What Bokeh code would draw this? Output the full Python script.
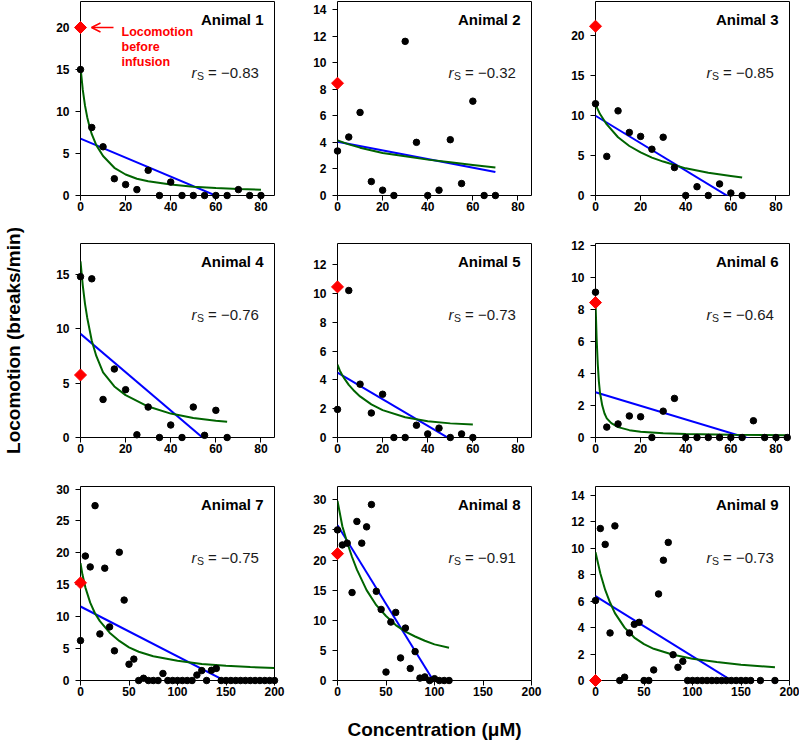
import numpy as np
from bokeh.plotting import figure
from bokeh.models import Label, Arrow, OpenHead, FixedTicker, Range1d
from bokeh.layouts import column, row
from bokeh.embed import file_html
from bokeh.resources import INLINE

# ---------------- data ----------------
animal_names = ["Animal 1", "Animal 2", "Animal 3", "Animal 4", "Animal 5",
                "Animal 6", "Animal 7", "Animal 8", "Animal 9"]
rs_labels = ["\u22120.83", "\u22120.32", "\u22120.85", "\u22120.76", "\u22120.73",
             "\u22120.64", "\u22120.75", "\u22120.91", "\u22120.73"]

conc_a1 = [0, 5, 10, 15, 20, 25, 30, 35, 40, 45, 50, 55, 60, 65, 70, 75, 80]
loco_a1 = [15.0, 8.1, 5.8, 2.0, 1.3, 0.7, 3.0, 0, 1.6, 0, 0, 0, 0, 0, 0.7, 0, 0]
conc_a2 = [0, 5, 10, 15, 20, 25, 30, 35, 40, 45, 50, 55, 60, 65, 70]
loco_a2 = [3.35, 4.4, 6.25, 1.05, 0.4, 0, 11.6, 4.0, 0, 0.4, 4.2, 0.9, 7.1, 0, 0]
conc_a3 = [0, 5, 10, 15, 20, 25, 30, 35, 40, 45, 50, 55, 60, 65]
loco_a3 = [11.5, 4.9, 10.6, 7.9, 7.4, 5.8, 7.3, 3.5, 0, 1.1, 0, 1.45, 0.3, 0]
conc_a4 = [0, 5, 10, 15, 20, 25, 30, 35, 40, 45, 50, 55, 60, 65]
loco_a4 = [14.8, 14.6, 3.5, 6.3, 4.4, 0.25, 2.8, 0, 1.15, 0, 2.8, 0.2, 2.5, 0]
conc_a5 = [0, 5, 10, 15, 20, 25, 30, 35, 40, 45, 50, 55, 60]
loco_a5 = [1.95, 10.2, 3.7, 1.7, 3.0, 0, 0, 0.85, 0.25, 0.65, 0, 0.25, 0]
conc_a6 = [0, 5, 10, 15, 20, 25, 30, 35, 40, 45, 50, 55, 60, 65, 70, 75, 80, 85]
loco_a6 = [9.1, 0.65, 0.85, 1.35, 1.3, 0, 1.65, 2.45, 0, 0, 0, 0, 0, 0, 1.05, 0, 0, 0]
conc_a7 = [0, 5, 10, 15, 20, 25, 30, 35, 40, 45, 50, 55, 60, 65, 70, 75, 80, 85, 90, 95,
           100, 105, 110, 115, 120, 125, 130, 135, 140, 145, 150, 155, 160, 165, 170,
           175, 180, 185, 190, 195, 200]
loco_a7 = [6.25, 19.5, 17.8, 27.4, 7.3, 17.6, 8.4, 4.65, 20.1, 12.6, 2.55, 3.35, 0, 0.35,
           0, 0, 0, 1.1, 0, 0, 0, 0, 0, 0, 0.85, 1.55, 0, 1.6, 1.9, 0, 0, 0, 0, 0, 0,
           0, 0, 0, 0, 0, 0]
conc_a8 = [0, 5, 10, 15, 20, 25, 30, 35, 40, 45, 50, 55, 60, 65, 70, 75, 80, 85, 90, 95,
           100, 105, 110, 115]
loco_a8 = [25.0, 22.5, 22.8, 14.6, 26.4, 22.8, 25.5, 29.2, 14.8, 11.8, 1.4, 9.7, 11.3,
           3.75, 8.7, 2.0, 4.8, 0.4, 0.6, 0, 0.3, 0, 0, 0]
conc_a9 = [0, 5, 10, 15, 20, 25, 30, 35, 40, 45, 50, 55, 60, 65, 70, 75, 80, 85, 90, 95,
           100, 105, 110, 115, 120, 125, 130, 135, 140, 145, 150, 155, 160, 170, 185]
loco_a9 = [6.05, 11.5, 10.3, 3.6, 11.7, 0, 0.25, 3.6, 4.25, 4.4, 0, 0, 0.8, 6.55, 9.1,
           10.45, 1.95, 1.0, 1.45, 0, 0, 0, 0, 0, 0, 0, 0, 0, 0, 0, 0, 0, 0, 0, 0]

# locomotion before infusion (red diamonds)
pre_infusion = [20.0, 8.45, 21.2, 5.75, 10.45, 8.45, 15.3, 21.05, 0.0]

# green fitted curves
curve_x_a1 = [0, 1, 2, 3, 4, 5, 7, 10, 15, 20, 25, 30, 40, 50, 60, 70, 80]
curve_y_a1 = [15.3, 12.6, 10.7, 9.3, 8.2, 7.3, 6.0, 4.7, 3.3, 2.5, 2.0, 1.7, 1.3, 1.05, 0.9, 0.78, 0.68]
curve_x_a2 = [0, 5, 10, 20, 30, 40, 50, 60, 70]
curve_y_a2 = [4.15, 3.85, 3.6, 3.2, 2.95, 2.7, 2.5, 2.3, 2.1]
curve_x_a3 = [0, 2, 5, 10, 15, 20, 25, 30, 40, 50, 60, 65]
curve_y_a3 = [11.4, 10.2, 8.9, 7.3, 6.2, 5.4, 4.75, 4.25, 3.4, 2.85, 2.45, 2.25]
curve_x_a4 = [0, 1, 2, 3, 5, 7, 10, 15, 20, 30, 40, 50, 60, 65]
curve_y_a4 = [16.2, 14.0, 12.3, 11.0, 8.9, 7.5, 6.0, 4.7, 3.9, 2.85, 2.2, 1.8, 1.55, 1.45]
curve_x_a5 = [0, 1, 2, 3, 5, 7, 10, 15, 20, 30, 40, 50, 60]
curve_y_a5 = [5.05, 4.65, 4.35, 4.1, 3.65, 3.3, 2.85, 2.3, 1.9, 1.4, 1.12, 0.98, 0.9]
curve_x_a6 = [0, 0.5, 1, 1.5, 2, 3, 4, 5, 7, 10, 15, 20, 30, 40, 60, 85]
curve_y_a6 = [8.5, 6.2, 4.6, 3.5, 2.8, 2.0, 1.5, 1.2, 0.9, 0.65, 0.46, 0.36, 0.27, 0.22, 0.17, 0.14]
curve_x_a7 = [0, 2, 5, 10, 15, 20, 30, 40, 50, 60, 75, 100, 125, 150, 175, 200]
curve_y_a7 = [18.4, 16.6, 14.6, 12.2, 10.5, 9.3, 7.5, 6.2, 5.2, 4.5, 3.8, 3.1, 2.6, 2.3, 2.1, 1.95]
curve_x_a8 = [0, 5, 10, 15, 20, 30, 40, 50, 60, 70, 80, 90, 100, 115]
curve_y_a8 = [29.8, 25.6, 22.9, 20.5, 18.4, 15.0, 12.5, 10.7, 9.2, 8.1, 7.3, 6.6, 6.0, 5.45]
curve_x_a9 = [0, 5, 10, 15, 20, 30, 40, 50, 60, 80, 100, 125, 150, 185]
curve_y_a9 = [9.7, 8.1, 6.85, 5.9, 5.1, 4.0, 3.25, 2.75, 2.4, 1.95, 1.65, 1.4, 1.2, 1.0]

# axes
x_max_rows = [86, 86, 200]
x_ticks_rows = [[0, 20, 40, 60, 80], [0, 20, 40, 60, 80], [0, 50, 100, 150, 200]]
y_max = [23.1, 14.6, 24.3, 17.85, 13.46, 12.15, 30.4, 32.2, 14.68]
y_ticks = [[0, 5, 10, 15, 20], [0, 2, 4, 6, 8, 10, 12, 14], [0, 5, 10, 15, 20],
           [0, 5, 10, 15], [0, 2, 4, 6, 8, 10, 12], [0, 2, 4, 6, 8, 10, 12],
           [0, 5, 10, 15, 20, 25, 30], [0, 5, 10, 15, 20, 25, 30],
           [0, 2, 4, 6, 8, 10, 12, 14]]

y_title = "Locomotion (breaks/min)"
x_title = "Concentration (\u03bcM)"
note_lines = ["Locomotion", "before", "infusion"]

concs = [conc_a1, conc_a2, conc_a3, conc_a4, conc_a5, conc_a6, conc_a7, conc_a8, conc_a9]
locos = [loco_a1, loco_a2, loco_a3, loco_a4, loco_a5, loco_a6, loco_a7, loco_a8, loco_a9]
curves_x = [curve_x_a1, curve_x_a2, curve_x_a3, curve_x_a4, curve_x_a5, curve_x_a6,
            curve_x_a7, curve_x_a8, curve_x_a9]
curves_y = [curve_y_a1, curve_y_a2, curve_y_a3, curve_y_a4, curve_y_a5, curve_y_a6,
            curve_y_a7, curve_y_a8, curve_y_a9]

# ---------------- layout ----------------
FONT = "Liberation Sans"
FW, FH = 194, 194
STRIP_W = 26
BL = [54, 49, 50]
BR = [14, 14, 10]
BT = [1, 6, 6]
BB = [42, 43, 64]
GREEN = "#006400"
BLUE = "#0000FF"
RED = "#FF0000"
TXT = "#1a1a1a"


def dx(xr, px):
    return xr[0] + px * (xr[1] - xr[0]) / FW


def dy(yr, px_from_top):
    return yr[1] - px_from_top * (yr[1] - yr[0]) / FH


figs = []
for i in range(9):
    r, c = divmod(i, 3)
    xr = (0, x_max_rows[r])
    yr = (0, y_max[i])
    p = figure(width=BL[c] + FW + BR[c], height=BT[r] + FH + BB[r],
               x_range=Range1d(*xr), y_range=Range1d(*yr),
               output_backend="svg", toolbar_location=None, tools="",
               min_border_left=BL[c], min_border_right=BR[c],
               min_border_top=BT[r], min_border_bottom=BB[r])
    p.xgrid.visible = False
    p.ygrid.visible = False
    p.outline_line_color = "black"
    p.outline_line_width = 1
    p.outline_line_alpha = 1
    p.background_fill_color = "white"
    p.border_fill_color = "white"
    p.xaxis.ticker = FixedTicker(ticks=x_ticks_rows[r])
    p.yaxis.ticker = FixedTicker(ticks=y_ticks[i])
    for ax in (p.xaxis[0], p.yaxis[0]):
        ax.axis_line_color = None
        ax.major_tick_line_color = "black"
        ax.major_tick_line_width = 1
        ax.major_tick_out = 5
        ax.major_tick_in = 0
        ax.minor_tick_line_color = None
        ax.major_label_text_font = FONT
        ax.major_label_text_font_style = "bold"
        ax.major_label_text_font_size = "12px"
        ax.major_label_text_color = "black"
        ax.axis_label_text_font = FONT
        ax.axis_label_text_font_style = "bold"
        ax.axis_label_text_font_size = "19px"
        ax.axis_label_text_color = "black"
    p.xaxis.major_label_standoff = 1
    p.yaxis.major_label_standoff = 6

    conc = np.array(concs[i], dtype=float)
    loco = np.array(locos[i], dtype=float)
    # linear regression (blue)
    slope, intercept = np.polyfit(conc, loco, 1)
    lx = [0.0, float(conc.max())]
    ly = [intercept + slope * v for v in lx]
    p.line(lx, ly, line_color=BLUE, line_width=2)
    # fitted curve (green)
    p.line(curves_x[i], curves_y[i], line_color=GREEN, line_width=2)
    # data points
    p.scatter(conc, loco, marker="circle", size=6.5, fill_color="black",
              line_color="black", level="overlay")
    p.scatter([0], [pre_infusion[i]], marker="square", angle=np.pi / 4, size=8.5,
              fill_color=RED, line_color=RED, level="overlay")

    # panel title
    p.add_layout(Label(x=dx(xr, FW - 11), y=dy(yr, 17.5), text=animal_names[i],
                       text_align="right", text_baseline="alphabetic",
                       text_font=FONT, text_font_style="bold",
                       text_font_size="15px", text_color="black"))
    # r_S = value
    x0 = FW - 83
    p.add_layout(Label(x=dx(xr, x0), y=dy(yr, 71), text="r",
                       text_align="left", text_baseline="alphabetic",
                       text_font=FONT, text_font_style="italic",
                       text_font_size="15px", text_color=TXT))
    p.add_layout(Label(x=dx(xr, x0 + 5.5), y=dy(yr, 74), text="S",
                       text_align="left", text_baseline="alphabetic",
                       text_font=FONT, text_font_size="10.5px", text_color=TXT))
    p.add_layout(Label(x=dx(xr, x0 + 16.5), y=dy(yr, 71), text="= " + rs_labels[i],
                       text_align="left", text_baseline="alphabetic",
                       text_font=FONT, text_font_size="15px", text_color=TXT))
    figs.append((p, xr, yr))

# annotation in panel 1
p1, xr1, yr1 = figs[0]
y_pre = pre_infusion[0]
p1.add_layout(Arrow(end=OpenHead(size=9, line_color=RED, line_width=1.5),
                    x_start=dx(xr1, 33), y_start=y_pre, x_end=dx(xr1, 11), y_end=y_pre,
                    line_color=RED, line_width=1.5))
y_pre_px = (yr1[1] - y_pre) * FH / (yr1[1] - yr1[0])
for k, txt in enumerate(note_lines):
    p1.add_layout(Label(x=dx(xr1, 41), y=dy(yr1, y_pre_px + 4.5 + 14.8 * k), text=txt,
                        text_align="left", text_baseline="alphabetic",
                        text_font=FONT, text_font_style="bold",
                        text_font_size="12.5px", text_color=RED))

# overall x title: axis label of panel 8 (centred on the middle column)
p8 = figs[7][0]
p8.xaxis.axis_label = x_title
p8.xaxis.axis_label_standoff = 20

# overall y title: a thin strip on the left, centred on the middle row's frame
row_h = [BT[r] + FH + BB[r] for r in range(3)]
total_h = sum(row_h)
mid_frame_from_top = row_h[0] + BT[1] + FH / 2
strip = figure(width=STRIP_W, height=total_h, x_range=Range1d(0, STRIP_W),
               y_range=Range1d(0, total_h), output_backend="svg",
               toolbar_location=None, tools="", x_axis_location=None,
               y_axis_location=None, min_border=0)
strip.xgrid.visible = False
strip.ygrid.visible = False
strip.outline_line_color = None
strip.background_fill_color = "white"
strip.border_fill_color = "white"
strip.add_layout(Label(x=STRIP_W / 2, y=total_h - mid_frame_from_top, text=y_title,
                       angle=np.pi / 2, text_align="center", text_baseline="middle",
                       text_font=FONT, text_font_style="bold", text_font_size="19px",
                       text_color="black"))

grid = column(row(*[f[0] for f in figs[0:3]]),
              row(*[f[0] for f in figs[3:6]]),
              row(*[f[0] for f in figs[6:9]]))
layout = row(strip, grid)

open("out.html", "w").write(file_html(layout, INLINE))
